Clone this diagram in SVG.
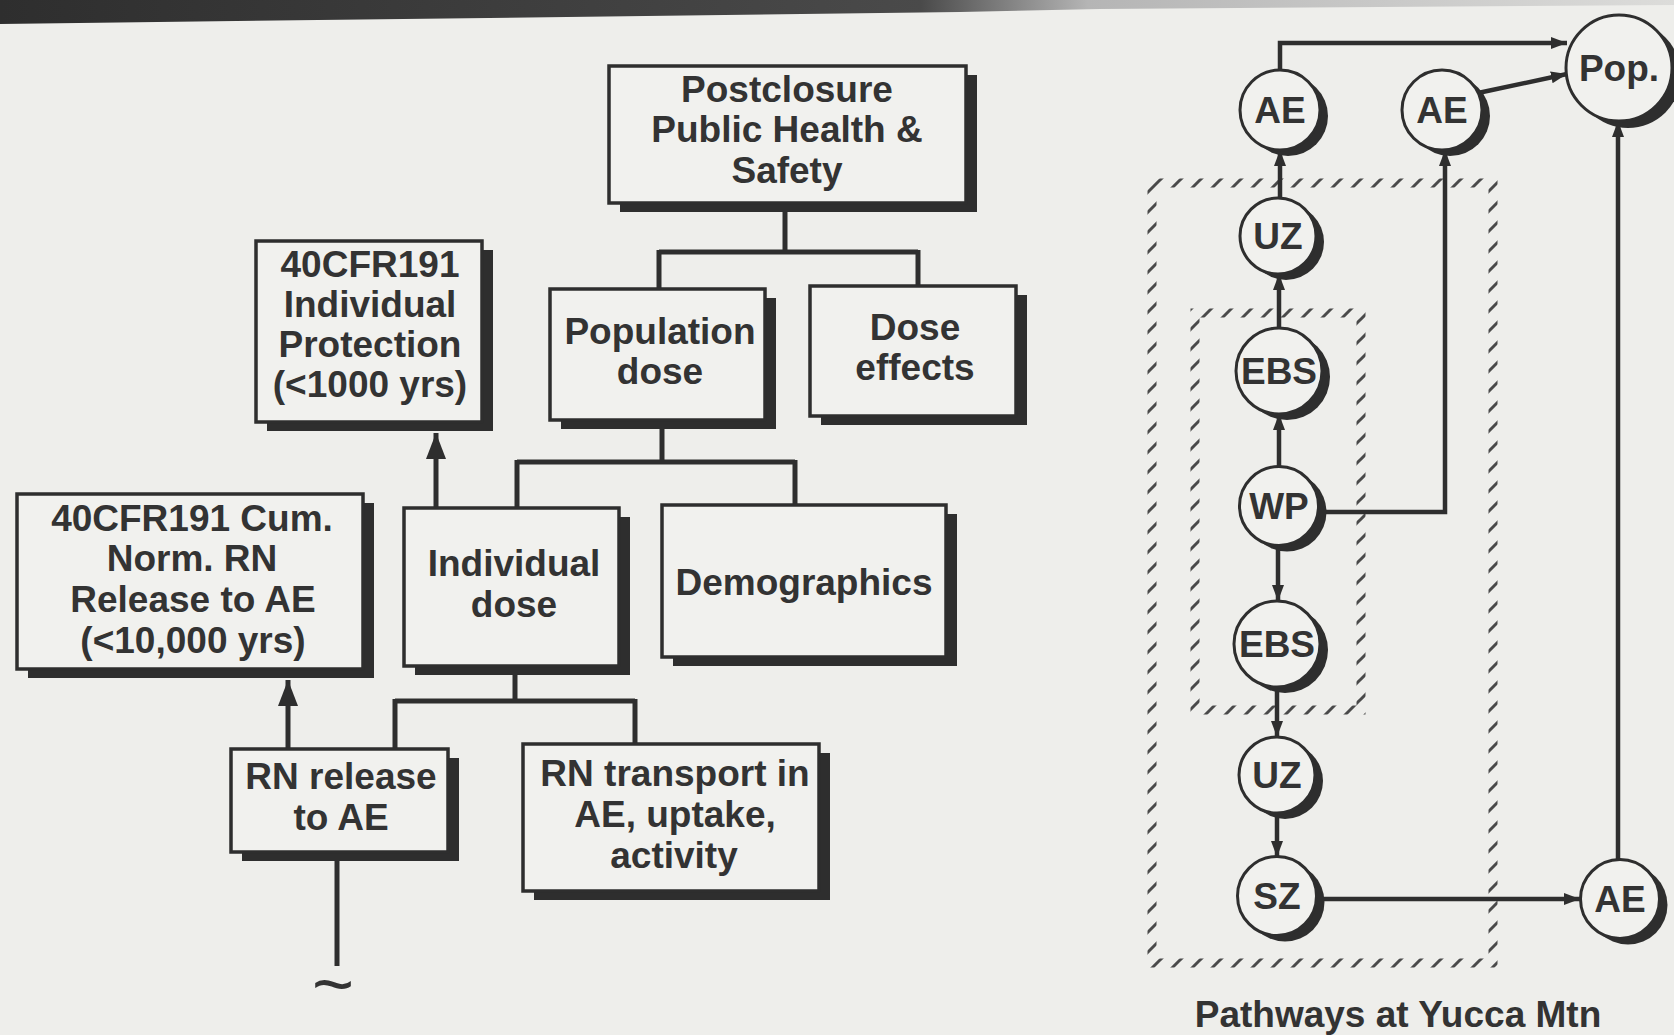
<svg xmlns="http://www.w3.org/2000/svg" width="1674" height="1035" viewBox="0 0 1674 1035">
<defs>
<style>
.bg{fill:#eeeeeb}
.box{fill:#f1f1ee;stroke:#2e2e2e;stroke-width:3.5}
.sh{fill:#2e2e2e}
.t{font-family:"Liberation Sans",Arial,sans-serif;font-weight:bold;font-size:37px;fill:#333;text-anchor:middle}
.c{fill:#f1f1ee;stroke:#2e2e2e;stroke-width:3}
.ln{fill:none;stroke:#2e2e2e;stroke-width:5}
.rl{fill:none;stroke:#2e2e2e;stroke-width:4.5}
.hat{fill:none;stroke:url(#hatch);stroke-width:9}
</style>
<linearGradient id="band" x1="0" y1="0" x2="1" y2="0">
<stop offset="0" stop-color="#2e2e2e"/>
<stop offset="0.55" stop-color="#4a4a4a"/>
<stop offset="0.65" stop-color="#b5b5b5"/>
<stop offset="1" stop-color="#dcdcda"/>
</linearGradient>
<pattern id="hatch" patternUnits="userSpaceOnUse" width="20" height="20">
<path d="M-2,22 L22,-2 M-2,2 L2,-2 M18,22 L22,18" stroke="#4a4a4a" stroke-width="3"/>
</pattern>
<marker id="arrL" markerUnits="userSpaceOnUse" markerWidth="26" markerHeight="20" viewBox="0 0 26 20" refX="26" refY="10" orient="auto">
<path d="M0,0 L26,10 L0,20 z" fill="#2e2e2e"/>
</marker>
<marker id="arrS" markerUnits="userSpaceOnUse" markerWidth="16" markerHeight="12" viewBox="0 0 16 12" refX="16" refY="6" orient="auto">
<path d="M0,0 L16,6 L0,12 z" fill="#2e2e2e"/>
</marker>
</defs>
<rect class="bg" x="0" y="0" width="1674" height="1035"/>
<polygon points="0,0 1674,0 1674,5 1100,9 960,12 0,24" fill="url(#band)"/>

<g id="zones">
<rect class="hat" x="1152" y="183" width="341" height="780"/>
<rect class="hat" x="1195" y="313" width="166" height="397"/>
</g>

<g id="connectors">
<path class="ln" d="M785,203 V252 M659,252 H918 M659,250 V289 M918,250 V286"/>
<path class="ln" d="M662,420 V462 M517,462 H795 M517,460 V508 M795,460 V505"/>
<path class="ln" d="M515,666 V701 M395,701 H635 M395,699 V749 M635,699 V744"/>
<path class="ln" d="M436,508 V433" marker-end="url(#arrL)"/>
<path class="ln" d="M288,749 V680" marker-end="url(#arrL)"/>
<path class="ln" d="M337,852 V966"/>
<path class="rl" d="M1280,70 V43 H1567" marker-end="url(#arrS)"/>
<path class="rl" d="M1478,93 L1567,74" marker-end="url(#arrS)"/>
<path class="rl" d="M1280,198 V150" marker-end="url(#arrS)"/>
<path class="rl" d="M1279,328 V274" marker-end="url(#arrS)"/>
<path class="rl" d="M1279,467 V414" marker-end="url(#arrS)"/>
<path class="rl" d="M1278,546 V601" marker-end="url(#arrS)"/>
<path class="rl" d="M1277,687 V737" marker-end="url(#arrS)"/>
<path class="rl" d="M1277,813 V857" marker-end="url(#arrS)"/>
<path class="rl" d="M1318,512 H1445 V150" marker-end="url(#arrS)"/>
<path class="rl" d="M1316,899 H1580" marker-end="url(#arrS)"/>
<path class="rl" d="M1618,860 V121" marker-end="url(#arrS)"/>
</g>

<g id="postclosure">
<rect class="sh" x="620" y="75" width="357" height="137"/>
<rect class="box" x="609" y="66" width="357" height="137"/>
<text class="t" x="787" y="102">Postclosure</text>
<text class="t" x="787" y="142">Public Health &amp;</text>
<text class="t" x="787" y="183">Safety</text>
</g>

<g id="cfr-individual">
<rect class="sh" x="267" y="250" width="226" height="181"/>
<rect class="box" x="256" y="241" width="226" height="181"/>
<text class="t" x="370" y="277">40CFR191</text>
<text class="t" x="370" y="317">Individual</text>
<text class="t" x="370" y="357">Protection</text>
<text class="t" x="370" y="397">(&lt;1000 yrs)</text>
</g>

<g id="population-dose">
<rect class="sh" x="561" y="298" width="215" height="131"/>
<rect class="box" x="550" y="289" width="215" height="131"/>
<text class="t" x="660" y="344">Population</text>
<text class="t" x="660" y="384">dose</text>
</g>

<g id="dose-effects">
<rect class="sh" x="821" y="295" width="206" height="130"/>
<rect class="box" x="810" y="286" width="206" height="130"/>
<text class="t" x="915" y="340">Dose</text>
<text class="t" x="915" y="380">effects</text>
</g>

<g id="individual-dose">
<rect class="sh" x="415" y="517" width="215" height="158"/>
<rect class="box" x="404" y="508" width="215" height="158"/>
<text class="t" x="514" y="576">Individual</text>
<text class="t" x="514" y="617">dose</text>
</g>

<g id="demographics">
<rect class="sh" x="673" y="514" width="284" height="152"/>
<rect class="box" x="662" y="505" width="284" height="152"/>
<text class="t" x="804" y="595">Demographics</text>
</g>

<g id="cfr-cumulative">
<rect class="sh" x="28" y="503" width="346" height="175"/>
<rect class="box" x="17" y="494" width="346" height="175"/>
<text class="t" x="192" y="531">40CFR191 Cum.</text>
<text class="t" x="192" y="571">Norm. RN</text>
<text class="t" x="193" y="612">Release to AE</text>
<text class="t" x="193" y="653">(&lt;10,000 yrs)</text>
</g>

<g id="rn-release">
<rect class="sh" x="242" y="758" width="217" height="103"/>
<rect class="box" x="231" y="749" width="217" height="103"/>
<text class="t" x="341" y="789">RN release</text>
<text class="t" x="341" y="830">to AE</text>
</g>

<g id="rn-transport">
<rect class="sh" x="534" y="753" width="296" height="147"/>
<rect class="box" x="523" y="744" width="296" height="147"/>
<text class="t" x="675" y="786">RN transport in</text>
<text class="t" x="675" y="827">AE, uptake,</text>
<text class="t" x="674" y="868">activity</text>
</g>

<text x="333" y="1009" font-family="Liberation Sans, Arial, sans-serif" font-size="72" fill="#333" text-anchor="middle">~</text>

<g id="ae1"><circle class="sh" cx="1288" cy="116" r="40"/><circle class="c" cx="1280" cy="110" r="40"/><text class="t" x="1280" y="123">AE</text></g>
<g id="ae2"><circle class="sh" cx="1450" cy="116" r="40"/><circle class="c" cx="1442" cy="110" r="40"/><text class="t" x="1442" y="123">AE</text></g>
<g id="pop"><circle class="sh" cx="1628" cy="75" r="53"/><circle class="c" cx="1619" cy="68" r="53"/><text class="t" x="1619" y="81">Pop.</text></g>
<g id="uz1"><circle class="sh" cx="1286" cy="242" r="38"/><circle class="c" cx="1278" cy="236" r="38"/><text class="t" x="1278" y="249">UZ</text></g>
<g id="ebs1"><circle class="sh" cx="1287" cy="377" r="43"/><circle class="c" cx="1279" cy="371" r="43"/><text class="t" x="1279" y="384">EBS</text></g>
<g id="wp"><circle class="sh" cx="1287" cy="512" r="39.5"/><circle class="c" cx="1279" cy="506" r="39.5"/><text class="t" x="1279" y="519">WP</text></g>
<g id="ebs2"><circle class="sh" cx="1285" cy="650" r="43"/><circle class="c" cx="1277" cy="644" r="43"/><text class="t" x="1277" y="657">EBS</text></g>
<g id="uz2"><circle class="sh" cx="1285" cy="781" r="38"/><circle class="c" cx="1277" cy="775" r="38"/><text class="t" x="1277" y="788">UZ</text></g>
<g id="sz"><circle class="sh" cx="1285" cy="902" r="39.5"/><circle class="c" cx="1277" cy="896" r="39.5"/><text class="t" x="1277" y="909">SZ</text></g>
<g id="ae3"><circle class="sh" cx="1628" cy="905" r="39.5"/><circle class="c" cx="1620" cy="899" r="39.5"/><text class="t" x="1620" y="912">AE</text></g>

<text class="t" x="1398" y="1027">Pathways at Yucca Mtn</text>
</svg>
